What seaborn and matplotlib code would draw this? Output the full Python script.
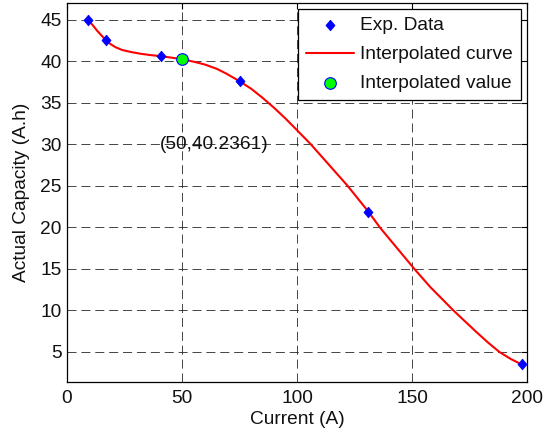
import matplotlib
matplotlib.use("Agg")
import matplotlib.pyplot as plt
import seaborn as sns
import pandas as pd

# Experimental data
exp_current = [9, 17, 41, 75, 131, 198]
exp_capacity = [45.0, 42.5, 40.6, 37.6, 21.9, 3.5]

# Interpolated curve
curve_current = [9, 11, 13, 15, 17, 19, 21, 24, 28, 32, 36, 41, 45, 50, 55, 60,
                 65, 69, 75, 80, 85, 90, 95, 100, 106, 114, 122, 131, 136, 142,
                 151, 158, 168, 178, 183, 188, 193, 197.7]
curve_capacity = [45.0, 44.4, 43.7, 43.1, 42.5, 42.05, 41.7, 41.35, 41.1, 40.9,
                  40.75, 40.6, 40.45, 40.24, 39.95, 39.6, 39.1, 38.55, 37.6, 36.7,
                  35.6, 34.4, 33.1, 31.7, 30.0, 27.5, 25.0, 21.9, 20.0, 18.0,
                  15.0, 12.8, 10.0, 7.4, 6.15, 5.0, 4.15, 3.5]

# Interpolated value
interp_current = [50]
interp_capacity = [40.2361]
interp_label = "(50,40.2361)"

x_ticks = [0, 50, 100, 150, 200]
y_ticks = [5, 10, 15, 20, 25, 30, 35, 40, 45]

sns.set_theme(style="white")
plt.rcParams['font.family'] = ['Liberation Sans', 'DejaVu Sans']
plt.rcParams['lines.scale_dashes'] = False

FS = 13.8

fig = plt.figure(figsize=(5.59, 4.41), dpi=100)
ax = fig.add_axes([0.1199, 0.134, 0.8229, 0.859])

df_curve = pd.DataFrame({"x": curve_current, "y": curve_capacity})
df_exp = pd.DataFrame({"x": exp_current, "y": exp_capacity})
df_int = pd.DataFrame({"x": interp_current, "y": interp_capacity})

diamond = [(0, 1), (0.85, 0), (0, -1), (-0.85, 0), (0, 1)]

sns.lineplot(data=df_curve, x="x", y="y", ax=ax, color="#ff0000", lw=1.5,
             sort=False, label="Interpolated curve", zorder=3)
sns.scatterplot(data=df_exp, x="x", y="y", ax=ax, marker=diamond, color="#0000ff",
                edgecolor="#0000ff", linewidth=0.5, s=60, label="Exp. Data", zorder=4)
sns.scatterplot(data=df_int, x="x", y="y", ax=ax, marker="o", color="#00ff00",
                edgecolor="#0000ff", linewidth=0.8, s=70, label="Interpolated value", zorder=5)

ax.text(40.4, 30.0, interp_label, ha="left", va="center", fontsize=FS, color="#111111")

ax.set_xlim(0, 200)
ax.set_ylim(1.4, 47.0)
ax.set_xticks(x_ticks)
ax.set_yticks(y_ticks)
ax.set_xlabel("Current (A)", fontsize=FS, labelpad=3, color="#111111")
ax.set_ylabel("Actual Capacity (A.h)", fontsize=FS, labelpad=7, color="#111111")
ax.tick_params(direction="in", length=4, width=0.8, labelsize=FS, top=True, right=True,
               colors="black", labelcolor="#111111")
ax.tick_params(axis="x", pad=6)
ax.tick_params(axis="y", pad=4)
for s in ax.spines.values():
    s.set_color("black")
    s.set_linewidth(0.9)

ax.grid(True, color="0.15", lw=0.6, linestyle=(0, (6.5, 3.5)))

h, l = ax.get_legend_handles_labels()
order = [l.index("Exp. Data"), l.index("Interpolated curve"), l.index("Interpolated value")]
leg = ax.legend([h[i] for i in order], [l[i] for i in order], loc="upper right",
                fontsize=FS, frameon=True, fancybox=False, edgecolor="black",
                framealpha=1, borderaxespad=0.33, handlelength=2.5, labelspacing=0.6,
                borderpad=0.4, handletextpad=0.35)
leg.get_frame().set_linewidth(0.9)
for t in leg.get_texts():
    t.set_color("#111111")

fig.savefig("out.png", dpi=100)
